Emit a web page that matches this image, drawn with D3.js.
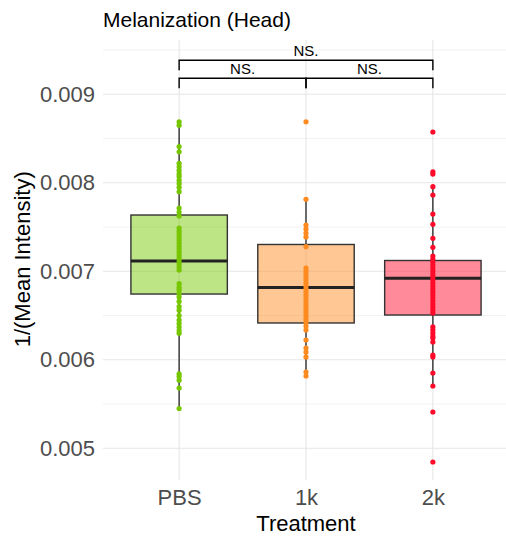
<!DOCTYPE html>
<html>
<head>
<meta charset="utf-8">
<script src="https://cdn.jsdelivr.net/npm/d3@7"></script>
<style>
  html, body { margin: 0; padding: 0; background: #fff; }
  svg { display: block; font-family: "Liberation Sans", Arial, Helvetica, sans-serif; }
</style>
</head>
<body>
<svg id="chart" width="506" height="536"></svg>
<script>
// Treatment groups and their colours
const categories = ["PBS", "1k", "2k"];
const pointColors = ["#76C600", "#FF8A1F", "#FF0A2A"];

// Individual observations: 1/(mean intensity) per group
const pbsValues = [
  0.00869, 0.00865, 0.00841, 0.00835, 0.00822, 0.00818, 0.00814, 0.00810,
  0.00807, 0.00803, 0.00799, 0.00795, 0.00790, 0.007715, 0.00767, 0.007625,
  0.007489, 0.007455, 0.007421, 0.007388, 0.007354, 0.00732, 0.007286, 0.007252,
  0.007218, 0.007184, 0.00715, 0.007116, 0.007082, 0.007048, 0.007014,
  0.00686, 0.00682, 0.00679, 0.00675, 0.00671, 0.00666, 0.00660, 0.00656,
  0.00650, 0.00645, 0.00641, 0.00637, 0.00633, 0.00630,
  0.00584, 0.00581, 0.00577, 0.00568, 0.00545
];
const k1Values = [
  0.00869, 0.007814, 0.007523, 0.007478, 0.007433, 0.007388, 0.007278,
  0.007037, 0.007003, 0.006969, 0.006936, 0.006902, 0.006868, 0.006834,
  0.0068, 0.006766, 0.006732, 0.006698, 0.006664, 0.00663, 0.006597,
  0.006563, 0.006529, 0.006495, 0.006461, 0.006427, 0.006382, 0.006337,
  0.006224, 0.006133, 0.006088, 0.006032, 0.005862, 0.005817
];
const k2Values = [
  0.008574, 0.008125, 0.008099, 0.007956, 0.007862, 0.007647, 0.007531,
  0.007373, 0.007271, 0.007173, 0.007139, 0.007105, 0.007071, 0.007037,
  0.007003, 0.006969, 0.006936, 0.006902, 0.006868, 0.006834, 0.0068,
  0.006766, 0.006732, 0.006698, 0.006664, 0.00663, 0.006597, 0.006563,
  0.006529, 0.006371, 0.006337, 0.006303, 0.006269, 0.006246, 0.006201,
  0.006054, 0.006032, 0.005851, 0.005704, 0.00541, 0.004845
];
const groupValues = [pbsValues, k1Values, k2Values];

// Box summary per group (PBS, 1k, 2k)
const boxQ1 = [0.006743, 0.006416, 0.006506];
const boxMedian = [0.007116, 0.006817, 0.006921];
const boxQ3 = [0.007636, 0.007303, 0.007122];
const whiskerLow = [0.00545, 0.005817, 0.005704];
const whiskerHigh = [0.00869, 0.007814, 0.007956];

// Pairwise comparisons
const comparisons = [["PBS", "1k"], ["1k", "2k"], ["PBS", "2k"]];
const comparisonLabels = ["NS.", "NS.", "NS."];
const bracketLevels = [0.009181, 0.009181, 0.009384];

const yTicks = [0.005, 0.006, 0.007, 0.008, 0.009];
const yMinorTicks = [0.0055, 0.0065, 0.0075, 0.0085, 0.0095];

const svg = d3.select("#chart");
const panel = { left: 103, right: 509, top: 40, bottom: 480 };

const x = d3.scalePoint().domain(categories).range([panel.left, panel.right]).padding(0.6);
const y = d3.scaleLinear().domain([0.005, 0.009]).range([448.3, 94.3]);
const boxWidth = x.step() * 0.76;

// Grid
const grid = svg.append("g");
grid.selectAll("line.minor").data(yMinorTicks).join("line")
  .attr("x1", panel.left).attr("x2", panel.right)
  .attr("y1", d => y(d)).attr("y2", d => y(d))
  .attr("stroke", "#EEEEEE").attr("stroke-width", 0.8);
grid.selectAll("line.major").data(yTicks).join("line")
  .attr("x1", panel.left).attr("x2", panel.right)
  .attr("y1", d => y(d)).attr("y2", d => y(d))
  .attr("stroke", "#E6E6E6").attr("stroke-width", 1.1);
grid.selectAll("line.vert").data(categories).join("line")
  .attr("x1", d => x(d)).attr("x2", d => x(d))
  .attr("y1", panel.top).attr("y2", panel.bottom)
  .attr("stroke", "#E6E6E6").attr("stroke-width", 1.1);

// Y axis labels
const yAxis = svg.append("g").attr("transform", `translate(${panel.left - 8},0)`)
  .call(d3.axisLeft(y).tickValues(yTicks).tickFormat(d3.format(".3f")).tickSize(0).tickPadding(0));
yAxis.select(".domain").remove();
yAxis.selectAll("text").attr("fill", "#4D4D4D").attr("font-size", 22)
  .attr("font-family", "'Liberation Sans', Arial, sans-serif");

// X axis labels
const xAxis = svg.append("g").attr("transform", `translate(0,${panel.bottom + 9})`)
  .call(d3.axisBottom(x).tickSize(0).tickPadding(0));
xAxis.select(".domain").remove();
xAxis.selectAll("text").attr("fill", "#4D4D4D").attr("font-size", 22)
  .attr("font-family", "'Liberation Sans', Arial, sans-serif");

// Boxes
const boxes = svg.append("g");
categories.forEach((c, i) => {
  const cx = x(c);
  const g = boxes.append("g");
  g.append("line").attr("x1", cx).attr("x2", cx)
    .attr("y1", y(whiskerHigh[i])).attr("y2", y(boxQ3[i]))
    .attr("stroke", "#222").attr("stroke-width", 1.3);
  g.append("line").attr("x1", cx).attr("x2", cx)
    .attr("y1", y(boxQ1[i])).attr("y2", y(whiskerLow[i]))
    .attr("stroke", "#222").attr("stroke-width", 1.3);
  g.append("rect")
    .attr("x", cx - boxWidth / 2).attr("width", boxWidth)
    .attr("y", y(boxQ3[i])).attr("height", y(boxQ1[i]) - y(boxQ3[i]))
    .attr("fill", pointColors[i]).attr("fill-opacity", 0.48)
    .attr("stroke", "#333").attr("stroke-width", 1.4);
  g.append("line")
    .attr("x1", cx - boxWidth / 2).attr("x2", cx + boxWidth / 2)
    .attr("y1", y(boxMedian[i])).attr("y2", y(boxMedian[i]))
    .attr("stroke", "#222").attr("stroke-width", 3);
});

// Points
const pts = svg.append("g");
categories.forEach((c, i) => {
  pts.selectAll(null).data(groupValues[i]).join("circle")
    .attr("cx", x(c)).attr("cy", d => y(d)).attr("r", 2.6)
    .attr("fill", pointColors[i]);
});

// Significance brackets
const brackets = svg.append("g");
comparisons.forEach((pair, i) => {
  const x1 = x(pair[0]), x2 = x(pair[1]);
  const yb = y(bracketLevels[i]);
  const tick = 10;
  brackets.append("path")
    .attr("d", `M${x1},${yb + tick}V${yb}H${x2}V${yb + tick}`)
    .attr("fill", "none").attr("stroke", "#000").attr("stroke-width", 1.4);
  brackets.append("text")
    .attr("x", (x1 + x2) / 2).attr("y", yb - 4)
    .attr("text-anchor", "middle").attr("font-size", 15).attr("fill", "#000")
    .text(comparisonLabels[i]);
});

// Titles
svg.append("text").attr("x", panel.left).attr("y", 27)
  .attr("font-size", 21).attr("fill", "#000").text("Melanization (Head)");
svg.append("text").attr("x", (x("PBS") + x("2k")) / 2).attr("y", 531)
  .attr("text-anchor", "middle").attr("font-size", 22).attr("fill", "#000").text("Treatment");
svg.append("text")
  .attr("transform", `translate(30,${y(0.007) - 12}) rotate(-90)`)
  .attr("text-anchor", "middle").attr("font-size", 22).attr("fill", "#000")
  .text("1/(Mean Intensity)");
</script>
</body>
</html>
